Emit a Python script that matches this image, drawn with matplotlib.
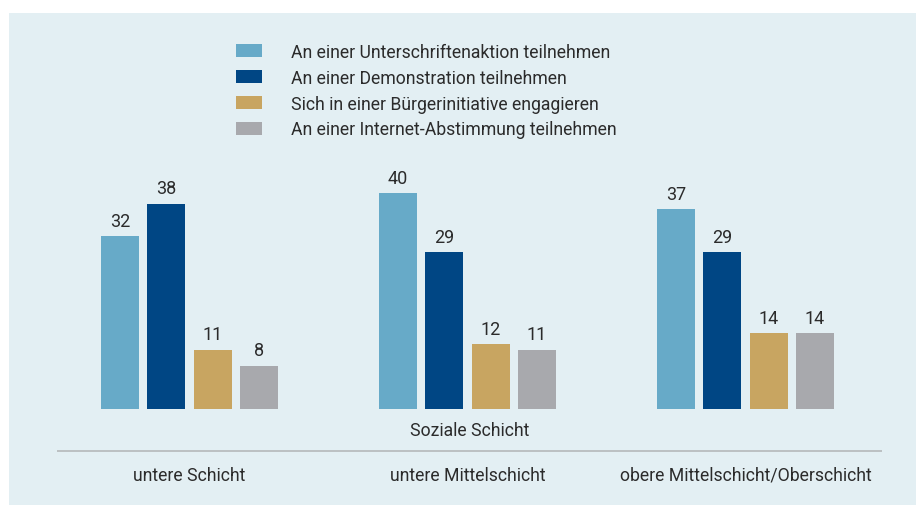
import matplotlib.pyplot as plt
import numpy as np
from matplotlib.patches import Rectangle, Patch

plt.rcParams['font.family'] = ['Roboto', 'DejaVu Sans']

groups = ["untere Schicht", "untere Mittelschicht", "obere Mittelschicht/Oberschicht"]
series = ["An einer Unterschriftenaktion teilnehmen",
          "An einer Demonstration teilnehmen",
          "Sich in einer Bürgerinitiative engagieren",
          "An einer Internet-Abstimmung teilnehmen"]
unterschrift = [32, 40, 37]
demo = [38, 29, 29]
buergerinitiative = [11, 12, 14]
internet = [8, 11, 14]
values = [unterschrift, demo, buergerinitiative, internet]
colors = ["#67aac8", "#004684", "#c8a561", "#a8a9ad"]
bg = "#e3eff3"
txt = "#2b2b2b"

W, H = 916, 506
fig = plt.figure(figsize=(W / 100, H / 100), dpi=100)
fig.patch.set_facecolor("white")
fig.add_artist(Rectangle((9 / W, 0), 1, 492 / H, transform=fig.transFigure,
                         facecolor=bg, edgecolor="none", zorder=0))

# axes spans the grey line width, baseline at 96 px from bottom
px_unit = 5.4
left, right = 57, 882
ax = fig.add_axes([left / W, 0, (right - left) / W, 492 / H])
ax.patch.set_alpha(0)
ax.set_xlim((left - 189.5) / 278, (right - 189.5) / 278)
ax.set_ylim(-96 / px_unit, (492 - 96) / px_unit)

x = np.arange(len(groups))
step = 46.3 / 278
width = 38 / 278
for i, (vals, c) in enumerate(zip(values, colors)):
    pos = x + (i - 1.5) * step
    bars = ax.bar(pos, vals, width, color=c, label=series[i])
    for b, v in zip(bars, vals):
        ax.annotate(str(v), (b.get_x() + b.get_width() / 2, v), xytext=(0, 7.5),
                    textcoords="offset points", ha="center", va="baseline",
                    fontsize=13, color=txt)

ax.axhline((54 - 96) / px_unit, color="#b5b8ba", lw=1.2)
for xi, g in zip(x, groups):
    ax.text(xi, (30 - 96) / px_unit, g, ha="center", va="center", fontsize=12.7, color=txt)
ax.text((470 - 189.5) / 278, (75 - 96) / px_unit, "Soziale Schicht", ha="center",
        va="center", fontsize=12.7, color=txt)

for s in ax.spines.values():
    s.set_visible(False)
ax.set_xticks([])
ax.set_yticks([])

handles = [Patch(facecolor=c, edgecolor="none") for c in colors]
fig.legend(handles, series, loc="upper left", bbox_to_anchor=(236 / W, 1 - 44 / H),
           frameon=False, fontsize=12.7, handlelength=1.45, handleheight=0.75,
           handletextpad=1.65, labelspacing=0.44, borderpad=0, borderaxespad=0,
           labelcolor=txt)

fig.savefig("out.png", dpi=100)
